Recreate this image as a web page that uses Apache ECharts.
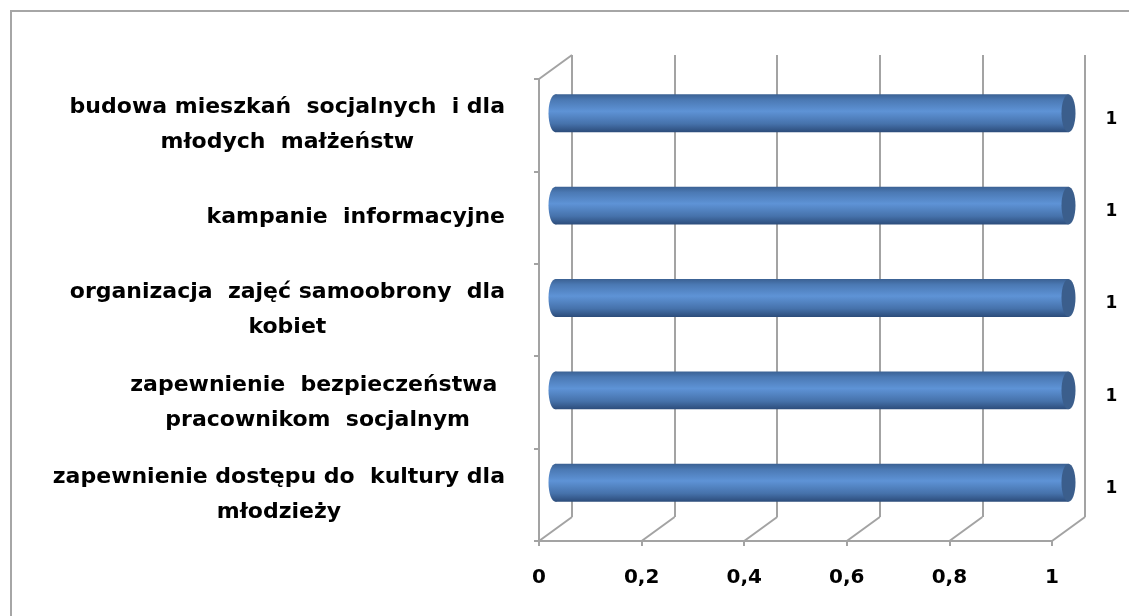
<!DOCTYPE html>
<html>
<head>
<meta charset="utf-8">
<script src="https://cdn.jsdelivr.net/npm/echarts@6/dist/echarts.min.js"></script>
<style>
  html, body { margin: 0; padding: 0; background: #fff; }
  #chart { width: 1129px; height: 616px; }
</style>
</head>
<body>
<div id="chart"></div>
<script>
// categories, top to bottom
var categories = [
  'budowa mieszkań  socjalnych  i dla\nmłodych  małżeństw',
  'kampanie  informacyjne',
  'organizacja  zajęć samoobrony  dla\nkobiet',
  'zapewnienie  bezpieczeństwa \npracownikom  socjalnym',
  'zapewnienie dostępu do  kultury dla\nmłodzieży'
];
var values = [1, 1, 1, 1, 1];
var xTicks = [0, 0.2, 0.4, 0.6, 0.8, 1];

var DX = 33, DY = -24;        // depth of the 3d box
var FONT = '"DejaVu Sans"';
var LINE = '#a3a3a3';

var chart = echarts.init(document.getElementById('chart'));

function frameItem(params, api) {
  var cs = params.coordSys;
  var x = api.coord([api.value(0), 0])[0];
  var yb = cs.y + cs.height;
  var kids = [{
    type: 'line',
    shape: { x1: x, y1: yb, x2: x + DX, y2: yb + DY },
    style: { stroke: LINE, lineWidth: 2 }
  }];
  if (api.value(0) === 0) {
    kids.push({
      type: 'line',
      shape: { x1: x, y1: cs.y, x2: x + DX, y2: cs.y + DY },
      style: { stroke: LINE, lineWidth: 2 }
    });
  }
  return { type: 'group', children: kids };
}

function barItem(params, api) {
  var v = api.value(0);
  var p0 = api.coord([0, api.value(1)]);
  var p1 = api.coord([v, api.value(1)]);
  var band = api.size([0, 1])[1];
  var h = band * 0.41, ry = h / 2, rx = 7;
  var x0 = p0[0] + DX / 2, x1 = p1[0] + DX / 2, yc = p0[1] + DY / 2;
  var grad = new echarts.graphic.LinearGradient(0, 0, 0, 1, [
    { offset: 0, color: '#3b6193' },
    { offset: 0.15, color: '#4b79b4' },
    { offset: 0.45, color: '#5e93d6' },
    { offset: 0.78, color: '#4672ab' },
    { offset: 1, color: '#2c4c7a' }
  ]);
  return {
    type: 'group',
    children: [
      { type: 'ellipse', shape: { cx: x0, cy: yc, rx: rx, ry: ry }, style: { fill: grad } },
      { type: 'rect', shape: { x: x0, y: yc - ry, width: x1 - x0, height: h }, style: { fill: grad } },
      { type: 'ellipse', shape: { cx: x1, cy: yc, rx: rx, ry: ry }, style: { fill: '#3b5e8c' } },
      {
        type: 'text',
        style: {
          text: String(v), x: x1 + 43, y: yc + 6,
          align: 'center', verticalAlign: 'middle',
          font: 'bold 17px ' + FONT, fill: '#000'
        }
      }
    ]
  };
}

var option = {
  animation: false,
  graphic: [{
    type: 'rect', silent: true,
    shape: { x: 11, y: 11, width: 1300, height: 800 },
    style: { fill: null, stroke: '#a6a6a6', lineWidth: 2 }
  }],
  grid: [
    { left: 539, right: 77, top: 79, bottom: 75 },
    { left: 572, right: 44, top: 55, bottom: 99 }
  ],
  xAxis: [{
    gridIndex: 0, type: 'value', min: 0, max: 1, interval: 0.2,
    axisLine: { show: true, lineStyle: { color: LINE, width: 2 } },
    axisTick: { show: true, length: 5, lineStyle: { color: LINE, width: 2 } },
    splitLine: { show: false },
    axisLabel: {
      margin: 27, color: '#000', fontFamily: FONT, fontWeight: 'bold', fontSize: 20,
      formatter: function (v) { return String(v).replace('.', ','); }
    }
  }, {
    gridIndex: 1, type: 'value', min: 0, max: 1, interval: 0.2,
    axisLine: { show: false }, axisTick: { show: false }, axisLabel: { show: false },
    splitLine: { show: true, lineStyle: { color: LINE, width: 2 } }
  }],
  yAxis: [{
    gridIndex: 0, type: 'category', data: categories, inverse: true,
    axisLine: { show: true, lineStyle: { color: LINE, width: 2 } },
    axisTick: { show: true, length: 5, lineStyle: { color: LINE, width: 2 } },
    axisLabel: {
      align: 'right', margin: 34,
      formatter: function (v) {
        return v.split('\n').map(function (l) { return '{c|' + l + '}'; }).join('\n');
      },
      rich: {
        c: { align: 'center', color: '#000', fontFamily: FONT, fontWeight: 'bold', fontSize: 22, lineHeight: 35 }
      }
    }
  }, {
    gridIndex: 1, type: 'value', min: 0, max: 1, show: false
  }],
  series: [{
    type: 'custom', xAxisIndex: 0, yAxisIndex: 0, z: 1, silent: true,
    renderItem: frameItem,
    encode: { x: 0, y: 1 },
    data: xTicks.map(function (t) { return [t, 0]; })
  }, {
    type: 'custom', xAxisIndex: 0, yAxisIndex: 0, z: 5,
    renderItem: barItem,
    encode: { x: 0, y: 1 },
    data: values.map(function (v, i) { return [v, i]; })
  }]
};

chart.setOption(option);
</script>
</body>
</html>
